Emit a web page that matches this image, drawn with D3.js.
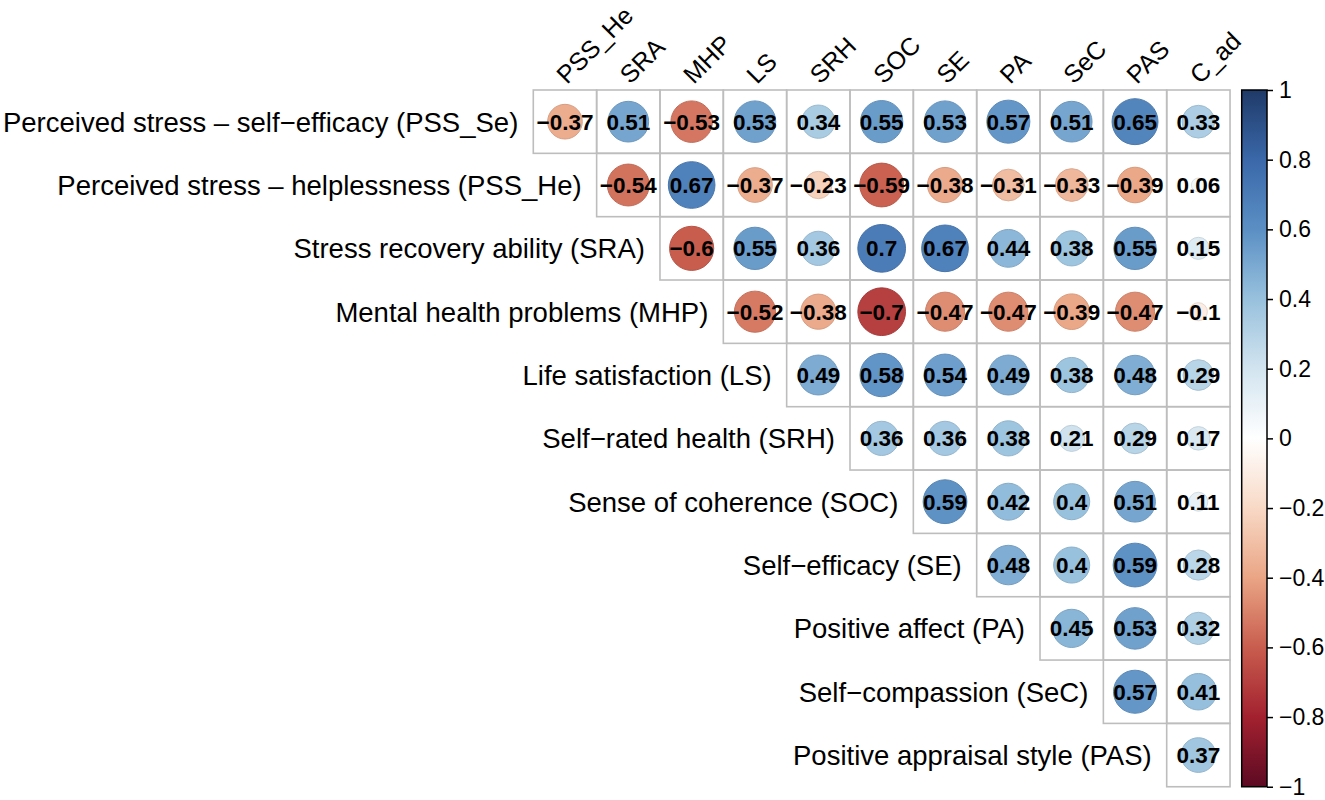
<!doctype html>
<html>
<head>
<meta charset="utf-8">
<title>Correlation matrix</title>
<script src="https://d3js.org/d3.v7.min.js"></script>
<style>
  body { margin: 0; background: #fff; }
  text { font-family: "Liberation Sans", Arial, Helvetica, sans-serif; }
</style>
</head>
<body>
<svg id="chart" width="1325" height="800"></svg>
<script>
   // row labels (left) and column labels (top)
   var ROW_LABELS = [
      "Perceived stress \u2013 self\u2212efficacy (PSS_Se)",
      "Perceived stress \u2013 helplessness (PSS_He)",
      "Stress recovery ability (SRA)",
      "Mental health problems (MHP)",
      "Life satisfaction (LS)",
      "Self\u2212rated health (SRH)",
      "Sense of coherence (SOC)",
      "Self\u2212efficacy (SE)",
      "Positive affect (PA)",
      "Self\u2212compassion (SeC)",
      "Positive appraisal style (PAS)"
   ];
   var COL_LABELS = ["PSS_He", "SRA", "MHP", "LS", "SRH", "SOC", "SE", "PA", "SeC", "PAS", "C_ad"];

   // upper triangle, row i starts at column i
   var CORR = [
      [-0.37, 0.51, -0.53, 0.53, 0.34, 0.55, 0.53, 0.57, 0.51, 0.65, 0.33],
      [-0.54, 0.67, -0.37, -0.23, -0.59, -0.38, -0.31, -0.33, -0.39, 0.06],
      [-0.6, 0.55, 0.36, 0.7, 0.67, 0.44, 0.38, 0.55, 0.15],
      [-0.52, -0.38, -0.7, -0.47, -0.47, -0.39, -0.47, -0.1],
      [0.49, 0.58, 0.54, 0.49, 0.38, 0.48, 0.29],
      [0.36, 0.36, 0.38, 0.21, 0.29, 0.17],
      [0.59, 0.42, 0.4, 0.51, 0.11],
      [0.48, 0.4, 0.59, 0.28],
      [0.45, 0.53, 0.32],
      [0.57, 0.41],
      [0.37]
   ];

   var COLOR_STOPS = [-1, -0.8, -0.6, -0.4, -0.2, 0, 0.2, 0.4, 0.6, 0.8, 1];
   var COLORS = ["#5c0a23", "#a3212f", "#c85d4e", "#eaa585", "#f8d9c6", "#ffffff",
                 "#d2e4ef", "#98c1dd", "#5b8fc4", "#3a68a9", "#1f3a68"];
   var BAR_TICKS = [-1, -0.8, -0.6, -0.4, -0.2, 0, 0.2, 0.4, 0.6, 0.8, 1];

   const svg = d3.select("#chart");
   const gridLeft = 533.3, gridTop = 90, cell = 63.34;
   const n = COL_LABELS.length;

   const xs = d3.scaleBand().domain(COL_LABELS).range([gridLeft, gridLeft + n * cell]);
   const ys = d3.scaleBand().domain(ROW_LABELS).range([gridTop, gridTop + n * cell]);
   const color = d3.scaleLinear().domain(COLOR_STOPS).range(COLORS);

   const cells = [];
   CORR.forEach(function(row, i) {
      row.forEach(function(v, k) {
         cells.push({ row: ROW_LABELS[i], col: COL_LABELS[i + k], value: v });
      });
   });

   // grid
   svg.append("g")
      .selectAll("rect")
      .data(cells)
      .enter()
         .append("rect")
            .attr("x", d => xs(d.col))
            .attr("y", d => ys(d.row))
            .attr("width", xs.bandwidth())
            .attr("height", ys.bandwidth())
            .attr("fill", "none")
            .attr("stroke", "#bdbdbd")
            .attr("stroke-width", 1.6);

   // circles, area proportional to |r|
   svg.append("g")
      .selectAll("circle")
      .data(cells)
      .enter()
         .append("circle")
            .attr("cx", d => xs(d.col) + xs.bandwidth() / 2)
            .attr("cy", d => ys(d.row) + ys.bandwidth() / 2)
            .attr("r", d => 0.9 * Math.sqrt(Math.abs(d.value)) * xs.bandwidth() / 2)
            .attr("fill", d => color(d.value))
            .attr("stroke", d => d3.color(color(d.value)).darker(0.25))
            .attr("stroke-width", 1);

   const fmt = d3.format("~g");

   svg.append("g")
      .selectAll("text")
      .data(cells)
      .enter()
         .append("text")
            .attr("x", d => xs(d.col) + xs.bandwidth() / 2)
            .attr("y", d => ys(d.row) + ys.bandwidth() / 2)
            .attr("dy", "0.36em")
            .attr("text-anchor", "middle")
            .attr("font-size", "22.5px")
            .attr("font-weight", "bold")
            .attr("fill", "#000")
            .text(d => fmt(d.value));

   // row labels
   svg.append("g")
      .selectAll("text")
      .data(ROW_LABELS)
      .enter()
         .append("text")
            .attr("x", (d, i) => xs(COL_LABELS[i]) - 15)
            .attr("y", d => ys(d) + ys.bandwidth() / 2)
            .attr("dy", "0.36em")
            .attr("text-anchor", "end")
            .attr("font-size", "27.5px")
            .text(d => d);

   // column labels, rotated
   svg.append("g")
      .selectAll("text")
      .data(COL_LABELS)
      .enter()
         .append("text")
            .attr("transform", d => "translate(" + (xs(d) + xs.bandwidth() / 2 + 2) + "," + (gridTop - 5) + ") rotate(-45)")
            .attr("font-size", "25px")
            .text(d => d);

   // colour bar
   const barX = 1241.7, barW = 25.3;
   const bs = d3.scaleLinear().domain([-1, 1]).range([gridTop + n * cell, gridTop]);

   const grad = svg.append("defs").append("linearGradient")
      .attr("id", "bar")
      .attr("x1", 0).attr("y1", 1).attr("x2", 0).attr("y2", 0);
   grad.selectAll("stop")
      .data(COLOR_STOPS)
      .enter()
         .append("stop")
            .attr("offset", d => (d + 1) / 2)
            .attr("stop-color", d => color(d));

   svg.append("rect")
      .attr("x", barX)
      .attr("y", bs(1))
      .attr("width", barW)
      .attr("height", bs(-1) - bs(1))
      .attr("fill", "url(#bar)")
      .attr("stroke", "#000")
      .attr("stroke-width", 1.5);

   const axis = svg.append("g")
      .attr("transform", "translate(" + (barX + barW) + ",0)")
      .call(d3.axisRight(bs).tickValues(BAR_TICKS).tickSize(6).tickPadding(6).tickFormat(fmt));
   axis.select(".domain").remove();
   axis.selectAll(".tick line").attr("stroke", "#000").attr("stroke-width", 1.5);
   axis.selectAll(".tick text")
      .attr("font-size", "23px")
      .attr("font-family", "Liberation Sans, Arial, sans-serif")
      .attr("fill", "#000");
</script>
</body>
</html>
